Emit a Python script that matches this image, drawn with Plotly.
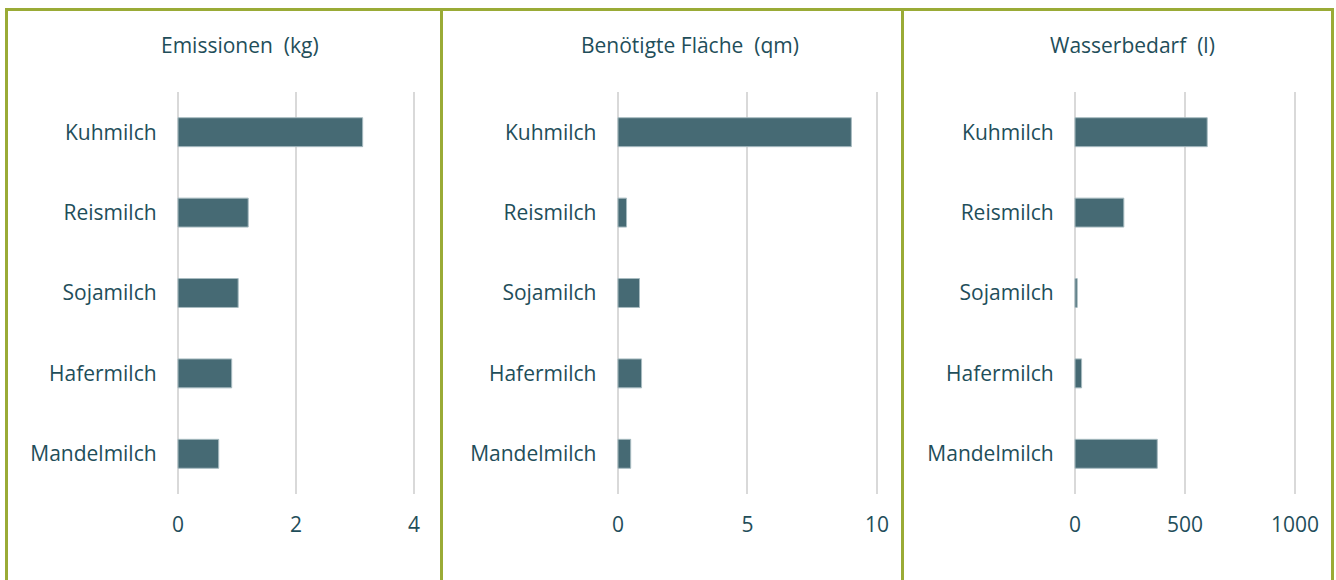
import plotly.graph_objects as go

W, H = 1336, 580

categories = ["Kuhmilch", "Reismilch", "Sojamilch", "Hafermilch", "Mandelmilch"]
emissionen_kg = [3.13, 1.19, 1.02, 0.91, 0.69]
flaeche_qm = [9.01, 0.33, 0.83, 0.91, 0.49]
wasser_l = [601, 222, 10, 30, 374]

titles = ["Emissionen\u00a0 (kg)", "Benötigte Fläche\u00a0 (qm)", "Wasserbedarf\u00a0 (l)"]
axis_max = [4, 10, 1000]
dticks = [2, 5, 500]
series = [emissionen_kg, flaeche_qm, wasser_l]

BAR = "#466A74"
TEXT = "#1F4E5A"
BORDER = "#9AAB36"
GRID = "#D9D9D9"
FONT = "Open Sans"

# plot area x-extents (px) and title centers (px)
plot_x = [(178, 414), (618, 877), (1075, 1295)]
title_cx = [240, 690, 1132]
y_top, y_bot = 92, 494
PAD = 0.005  # small range padding so edge gridlines are drawn

fig = go.Figure()
for i, vals in enumerate(series):
    n = "" if i == 0 else str(i + 1)
    fig.add_trace(go.Bar(
        x=vals, y=categories, orientation="h",
        marker=dict(color=BAR, line=dict(color="#A7BBC0", width=1)),
        xaxis="x" + n, yaxis="y" + n, showlegend=False,
        hoverinfo="x+y",
    ))
    x0, x1 = plot_x[i]
    span = x1 - x0
    r = axis_max[i]
    fig.layout["xaxis" + n] = dict(
        domain=[(x0 - PAD * span) / W, (x1 + PAD * span) / W],
        range=[-PAD * r, r * (1 + PAD)], dtick=dticks[i], tick0=0,
        showgrid=True, gridcolor=GRID, gridwidth=2,
        zeroline=True, zerolinecolor=GRID, zerolinewidth=2,
        showline=False, ticks="outside", ticklen=12, tickcolor="rgba(0,0,0,0)",
        tickfont=dict(family=FONT, size=21, color=TEXT),
        anchor="y" + n, fixedrange=True, automargin=False,
    )
    fig.layout["yaxis" + n] = dict(
        domain=[1 - y_bot / H, 1 - y_top / H],
        categoryorder="array", categoryarray=categories[::-1],
        showgrid=False, zeroline=False, showline=False,
        ticks="outside", ticklen=15, tickcolor="rgba(0,0,0,0)",
        tickfont=dict(family=FONT, size=21, color=TEXT),
        anchor="x" + n, fixedrange=True, automargin=False,
    )
    fig.add_annotation(
        text=titles[i], xref="paper", yref="paper",
        x=title_cx[i] / W, y=1 - 45 / H, xanchor="center", yanchor="middle",
        showarrow=False, font=dict(family=FONT, size=21, color=TEXT),
    )

# panel borders
lw = 3
shapes = [dict(type="line", xref="paper", yref="paper",
               x0=6 / W, x1=1334 / W, y0=1 - 9.5 / H, y1=1 - 9.5 / H,
               line=dict(color=BORDER, width=lw))]
for xv in [6.5, 441.5, 902.5, 1332.5]:
    shapes.append(dict(type="line", xref="paper", yref="paper",
                       x0=xv / W, x1=xv / W, y0=1 - 8 / H, y1=-0.05,
                       line=dict(color=BORDER, width=lw)))
fig.update_layout(
    width=W, height=H, autosize=False, margin=dict(l=0, r=0, t=0, b=0, autoexpand=False),
    paper_bgcolor="white", plot_bgcolor="white",
    bargap=0.64, shapes=shapes,
    font=dict(family=FONT, color=TEXT),
)

fig.write_html(
    "out.html",
    config={"responsive": False, "displayModeBar": False},
    post_script="document.body.style.margin='0';document.documentElement.style.overflow='hidden';",
)
